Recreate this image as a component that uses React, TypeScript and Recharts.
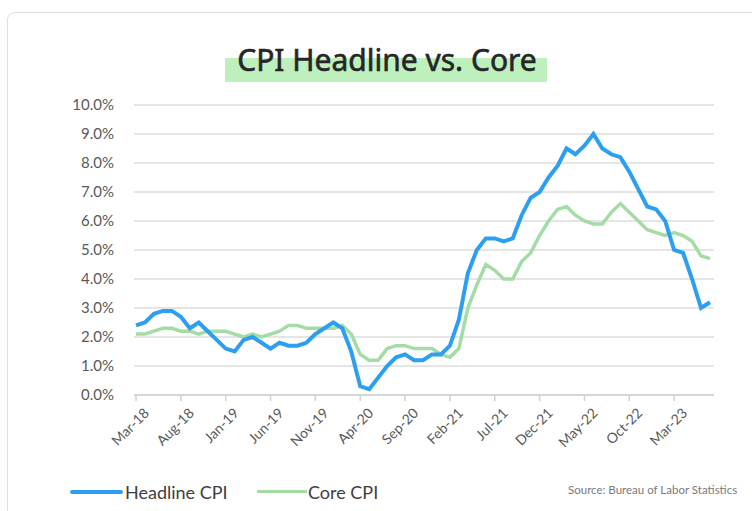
import { LineChart, Line, XAxis, YAxis, CartesianGrid } from "recharts";

// monthly, Mar-18 .. Jul-23
const months = [
  "Mar-18", "Apr-18", "May-18", "Jun-18", "Jul-18", "Aug-18", "Sep-18", "Oct-18", "Nov-18", "Dec-18",
  "Jan-19", "Feb-19", "Mar-19", "Apr-19", "May-19", "Jun-19", "Jul-19", "Aug-19", "Sep-19", "Oct-19", "Nov-19", "Dec-19",
  "Jan-20", "Feb-20", "Mar-20", "Apr-20", "May-20", "Jun-20", "Jul-20", "Aug-20", "Sep-20", "Oct-20", "Nov-20", "Dec-20",
  "Jan-21", "Feb-21", "Mar-21", "Apr-21", "May-21", "Jun-21", "Jul-21", "Aug-21", "Sep-21", "Oct-21", "Nov-21", "Dec-21",
  "Jan-22", "Feb-22", "Mar-22", "Apr-22", "May-22", "Jun-22", "Jul-22", "Aug-22", "Sep-22", "Oct-22", "Nov-22", "Dec-22",
  "Jan-23", "Feb-23", "Mar-23", "Apr-23", "May-23", "Jun-23", "Jul-23",
];

const headline = [
  2.4, 2.5, 2.8, 2.9, 2.9, 2.7, 2.3, 2.5, 2.2, 1.9,
  1.6, 1.5, 1.9, 2.0, 1.8, 1.6, 1.8, 1.7, 1.7, 1.8, 2.1, 2.3,
  2.5, 2.3, 1.5, 0.3, 0.2, 0.6, 1.0, 1.3, 1.4, 1.2, 1.2, 1.4,
  1.4, 1.7, 2.6, 4.2, 5.0, 5.4, 5.4, 5.3, 5.4, 6.2, 6.8, 7.0,
  7.5, 7.9, 8.5, 8.3, 8.6, 9.0, 8.5, 8.3, 8.2, 7.7, 7.1, 6.5,
  6.4, 6.0, 5.0, 4.9, 4.0, 3.0, 3.2,
];

const core = [
  2.1, 2.1, 2.2, 2.3, 2.3, 2.2, 2.2, 2.1, 2.2, 2.2,
  2.2, 2.1, 2.0, 2.1, 2.0, 2.1, 2.2, 2.4, 2.4, 2.3, 2.3, 2.3,
  2.3, 2.4, 2.1, 1.4, 1.2, 1.2, 1.6, 1.7, 1.7, 1.6, 1.6, 1.6,
  1.4, 1.3, 1.6, 3.0, 3.8, 4.5, 4.3, 4.0, 4.0, 4.6, 4.9, 5.5,
  6.0, 6.4, 6.5, 6.2, 6.0, 5.9, 5.9, 6.3, 6.6, 6.3, 6.0, 5.7,
  5.6, 5.5, 5.6, 5.5, 5.3, 4.8, 4.7,
];

const yTicks = [0, 1, 2, 3, 4, 5, 6, 7, 8, 9, 10];

const data = months.map((m, i) => ({ month: m, headline: headline[i], core: core[i] }));

const BLUE = "#2c9ff0";
const GREEN = "#a4dca6";
const FONT = "Lato, 'Noto Sans', sans-serif";

function XTick(props: any) {
  const { x, y, payload } = props;
  return (
    <g transform={`translate(${x + 7},${y + 4})`}>
      <text x={0} y={0} dy={10} textAnchor="end" fill="#595959" fontSize={14} fontFamily={FONT} transform="rotate(-45)">
        {payload.value}
      </text>
    </g>
  );
}

export default function App() {
  return (
    <div style={{ position: "fixed", left: 0, top: 0, width: 752, height: 511, overflow: "hidden", background: "#fff" }}>
      <div
        style={{
          position: "absolute",
          left: 7,
          top: 12,
          width: 800,
          height: 600,
          border: "1px solid #e0e0e0",
          borderRadius: 8,
        }}
      />
      <div style={{ position: "absolute", left: 225, top: 58, width: 322, height: 24, background: "#bdf0bd" }} />
      <div
        style={{
          position: "absolute",
          left: 187,
          top: 47,
          width: 400,
          textAlign: "center",
          fontFamily: "'Noto Sans', sans-serif",
          fontSize: 30,
          lineHeight: "26px",
          color: "#262626",
          WebkitTextStroke: "0.6px #262626",
        }}
      >
        CPI Headline vs. Core
      </div>

      <div style={{ position: "absolute", left: 8, top: 13 }}>
        <LineChart width={740} height={490} data={data} margin={{ top: 92, right: 34, left: 0, bottom: 48 }}>
          <CartesianGrid vertical={false} stroke="#dcdcdc" strokeWidth={1.5} />
          <XAxis
            dataKey="month"
            interval={4}
            padding={{ left: 2, right: 4 }}
            stroke="#d0d0d0"
            strokeWidth={1.5}
            tickSize={6}
            height={60}
            tick={<XTick />}
          />
          <YAxis
            domain={[0, 10]}
            ticks={yTicks}
            width={126}
            axisLine={false}
            tickLine={false}
            tickSize={0}
            tickMargin={20}
            tickFormatter={(v: number) => `${v.toFixed(1)}%`}
            tick={{ fill: "#595959", fontSize: 15, fontFamily: FONT }}
          />
          <Line
            type="linear"
            dataKey="core"
            stroke={GREEN}
            strokeWidth={3.5}
            dot={false}
            isAnimationActive={false}
          />
          <Line
            type="linear"
            dataKey="headline"
            stroke={BLUE}
            strokeWidth={4}
            dot={false}
            isAnimationActive={false}
          />
        </LineChart>
      </div>

      <div style={{ position: "absolute", left: 70, top: 490, width: 53, height: 4, borderRadius: 2, background: BLUE }} />
      <div
        style={{ position: "absolute", left: 125, top: 481, fontFamily: FONT, fontSize: 18, lineHeight: "22px", color: "#404040" }}
      >
        Headline CPI
      </div>
      <div style={{ position: "absolute", left: 257, top: 490, width: 50, height: 3, background: GREEN }} />
      <div
        style={{ position: "absolute", left: 308, top: 481, fontFamily: FONT, fontSize: 18, lineHeight: "22px", color: "#404040" }}
      >
        Core CPI
      </div>
      <div
        style={{ position: "absolute", left: 568, top: 484, fontFamily: FONT, fontSize: 11.5, lineHeight: "12px", color: "#7a7a7a" }}
      >
        Source: Bureau of Labor Statistics
      </div>
    </div>
  );
}
